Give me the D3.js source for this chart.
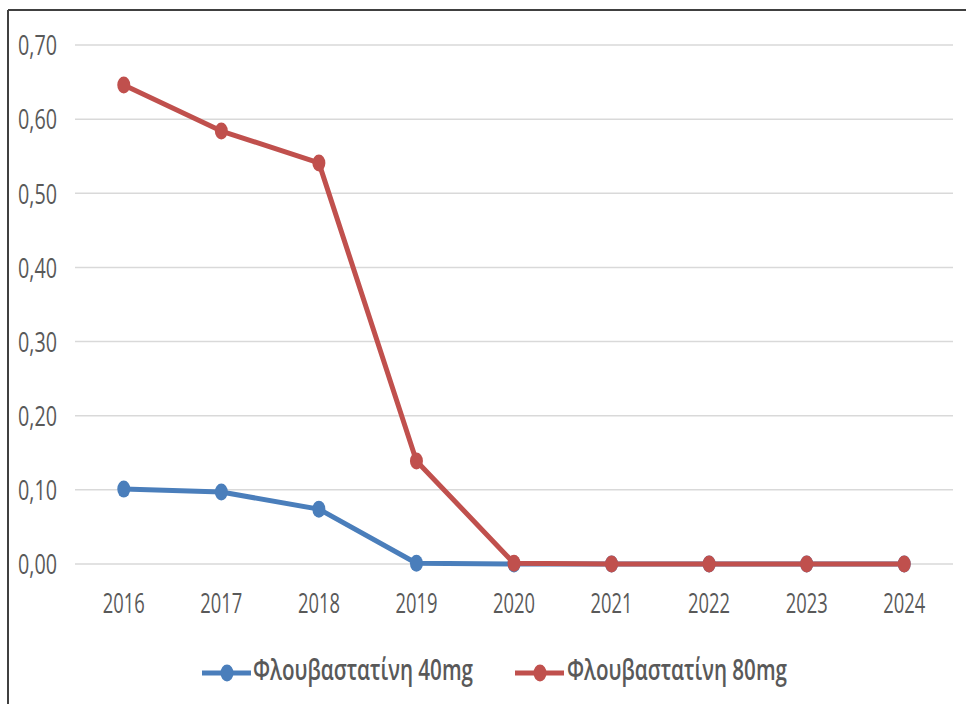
<!DOCTYPE html>
<html><head><meta charset="utf-8">
<script src="https://cdn.jsdelivr.net/npm/d3@7"></script>
<style>
html,body{margin:0;padding:0;background:#fff;}
svg{display:block;}
</style></head>
<body>
<svg id="chart" width="966" height="704"></svg>
<script>
const years = ["2016","2017","2018","2019","2020","2021","2022","2023","2024"];
const series40 = [0.101, 0.097, 0.074, 0.001, 0.000, 0.000, 0.000, 0.000, 0.000];
const series80 = [0.646, 0.584, 0.541, 0.139, 0.001, 0.000, 0.000, 0.000, 0.000];
const yTicks = [0, 0.1, 0.2, 0.3, 0.4, 0.5, 0.6, 0.7];
const seriesNames = ["Φλουβαστατίνη 40mg", "Φλουβαστατίνη 80mg"];
const seriesColors = ["#4a7ebb", "#c0504d"];

const FONT = "'Liberation Sans Narrow','Open Sans','DejaVu Sans Condensed',sans-serif";
const svg = d3.select("#chart");

// frame (left and top edges)
svg.append("line").attr("x1",8).attr("x2",8).attr("y1",10).attr("y2",704).attr("stroke","#404040").attr("stroke-width",2);
svg.append("line").attr("x1",8).attr("x2",966).attr("y1",10).attr("y2",10).attr("stroke","#404040").attr("stroke-width",2);

const x = d3.scaleBand().domain(years).range([75, 953]);
const y = d3.scaleLinear().domain([0, 0.7]).range([564, 45]);

// gridlines
svg.append("g").selectAll("line").data(yTicks).join("line")
  .attr("x1",75).attr("x2",953)
  .attr("y1",d=>y(d)).attr("y2",d=>y(d))
  .attr("stroke","#d9d9d9").attr("stroke-width",1.5);

// fit helper: squeeze text horizontally to target width
function squeeze(sel, targetW) {
  sel.each(function() {
    const w = this.getComputedTextLength();
    const s = w > 0 ? targetW / w : 1;
    d3.select(this).attr("transform", `scale(${s},1)`);
  });
}

// y axis labels
const fmt = d => d.toFixed(2).replace(".", ",");
const yAxis = d3.axisLeft(y).tickValues(yTicks).tickFormat(fmt).tickSize(0).tickPadding(0);
const gy = svg.append("g").attr("transform","translate(57,0)").call(yAxis);
gy.select(".domain").remove();
gy.selectAll("text").attr("font-family",FONT).attr("font-size",27).attr("fill","#595959").attr("dy","0.36em");
squeeze(gy.selectAll("text"), 39);

// x axis labels
const xAxis = d3.axisBottom(x).tickSize(0).tickPadding(0);
const gx = svg.append("g").attr("transform","translate(0,593)").call(xAxis);
gx.select(".domain").remove();
gx.selectAll("text").attr("font-family",FONT).attr("font-size",27).attr("fill","#595959").attr("dy","0.75em");
squeeze(gx.selectAll("text"), 42);

const cx = d => x(d) + x.bandwidth()/2;
const line = d3.line().x((d,i)=>cx(years[i])).y(d=>y(d));

[series40, series80].forEach((s, k) => {
  const g = svg.append("g");
  g.append("path").datum(s).attr("d", line).attr("fill","none")
    .attr("stroke", seriesColors[k]).attr("stroke-width",5).attr("stroke-linejoin","round");
  g.selectAll("ellipse").data(s).join("ellipse")
    .attr("cx",(d,i)=>cx(years[i])).attr("cy",d=>y(d))
    .attr("rx",6.5).attr("ry",8.5).attr("fill",seriesColors[k]);
});

// legend
const legendItems = [{x0:202, tx:253, w:220}, {x0:515, tx:567, w:220}];
legendItems.forEach((li,k) => {
  const g = svg.append("g");
  g.append("line").attr("x1",li.x0).attr("x2",li.x0+49).attr("y1",673).attr("y2",673)
    .attr("stroke",seriesColors[k]).attr("stroke-width",5);
  g.append("ellipse").attr("cx",li.x0+25).attr("cy",673).attr("rx",6.5).attr("ry",8.5).attr("fill",seriesColors[k]);
  const tg = g.append("g").attr("transform",`translate(${li.tx},670)`);
  const t = tg.append("text").attr("x",0).attr("y",0).attr("dy","0.36em")
    .attr("font-family",FONT).attr("font-size",28).attr("font-weight",600).attr("fill","#595959")
    .text(seriesNames[k]);
  squeeze(t, li.w);
});
</script>
</body></html>
